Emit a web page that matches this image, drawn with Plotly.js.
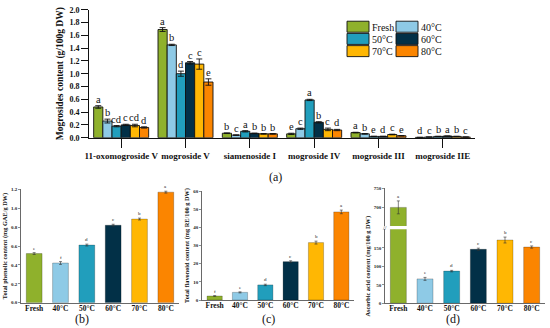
<!DOCTYPE html>
<html><head><meta charset="utf-8">
<script src="https://cdn.plot.ly/plotly-3.0.1.min.js"></script>
<style>html,body{margin:0;padding:0;background:#fff}#chart{width:550px;height:328px}</style>
</head><body><div id="chart"></div>
<script>
// ---------- data ----------
const treatments = ['Fresh', '40°C', '50°C', '60°C', '70°C', '80°C'];
const compounds = ['11-oxomogroside V', 'mogroside V', 'siamenoside I', 'mogroside IV', 'mogroside III', 'mogroside IIE'];

// Mogroside content (g/100g DW), one array per treatment across compounds
const mogFresh = [0.48, 1.69, 0.07, 0.06, 0.08, 0.005];
const mog40 = [0.26, 1.45, 0.04, 0.14, 0.06, 0.010];
const mog50 = [0.18, 1.00, 0.10, 0.59, 0.02, 0.020];
const mog60 = [0.20, 1.17, 0.067, 0.24, 0.02, 0.025];
const mog70 = [0.19, 1.15, 0.06, 0.13, 0.05, 0.020];
const mog80 = [0.16, 0.87, 0.06, 0.12, 0.03, 0.010];
const errFresh = [0.02, 0.03, 0.005, 0.01, 0.005, 0.002];
const err40 = [0.03, 0.01, 0.005, 0.01, 0.005, 0.002];
const err50 = [0.01, 0.04, 0.01, 0.01, 0.003, 0.002];
const err60 = [0.01, 0.02, 0.005, 0.01, 0.003, 0.002];
const err70 = [0.02, 0.08, 0.005, 0.02, 0.005, 0.002];
const err80 = [0.01, 0.05, 0.005, 0.01, 0.003, 0.002];
const letFresh = ['a', 'a', 'b', 'e', 'a', 'd'];
const let40 = ['b', 'b', 'c', 'c', 'b', 'c'];
const let50 = ['cd', 'd', 'a', 'a', 'e', 'b'];
const let60 = ['c', 'c', 'b', 'b', 'd', 'a'];
const let70 = ['cd', 'c', 'b', 'c', 'c', 'b'];
const let80 = ['d', 'e', 'b', 'd', 'e', 'c'];

// Total phenolic content (mg GAE/g DW)
const phenolic = [0.52, 0.42, 0.61, 0.82, 0.885, 1.17];
const phenolicErr = [0.01, 0.015, 0.01, 0.01, 0.01, 0.01];
const phenolicLet = ['e', 'f', 'd', 'c', 'b', 'a'];
// Total flavonoid content (mg RE/100 g DW)
const flavonoid = [2.2, 4.2, 8.3, 21.1, 31.6, 48.5];
const flavonoidErr = [0.2, 0.3, 0.4, 0.5, 0.8, 1.0];
const flavonoidLet = ['f', 'e', 'd', 'c', 'b', 'a'];
// Ascorbic acid content (mg/100 g DW)
const ascorbic = [699, 66, 87, 146, 171, 152];
const ascorbicErr = [17, 4, 2, 3, 8, 3];
const ascorbicLet = ['a', 'e', 'd', 'c', 'b', 'c'];

const colors = ['#8fb12c', '#8ecae6', '#219ebc', '#023047', '#ffb703', '#fb8500'];

// ---------- build ----------
const SERIF = "Liberation Serif, Times New Roman, serif";
const mogVals = [mogFresh, mog40, mog50, mog60, mog70, mog80];
const mogErrs = [errFresh, err40, err50, err60, err70, err80];
const mogLets = [letFresh, let40, let50, let60, let70, let80];
const BARGAP = 0.145;

const traces = [];
const annotations = [];
treatments.forEach((t, ti) => {
  traces.push({
    type: 'bar', name: t, x: compounds, y: mogVals[ti],
    xaxis: 'x', yaxis: 'y',
    marker: {color: colors[ti], line: {color: '#111', width: 0.9}},
    error_y: {type: 'data', array: mogErrs[ti], color: '#111', thickness: 0.9, width: 3},
    legend: (ti % 2 === 0) ? 'legend' : 'legend2',
    hoverinfo: 'none'
  });
  const w = (1 - BARGAP) / treatments.length;
  compounds.forEach((c, ci) => {
    annotations.push({
      xref: 'x', yref: 'y', x: ci + (ti - 2.5) * w, y: mogVals[ti][ci] + mogErrs[ti][ci],
      text: mogLets[ti][ci], showarrow: false, yanchor: 'bottom', yshift: -1,
      font: {family: SERIF, size: 10.5, color: '#111'}
    });
  });
});

function smallPanel(vals, errs, xa, ya) {
  traces.push({
    type: 'bar', x: treatments, y: vals, xaxis: xa, yaxis: ya, width: 0.6,
    showlegend: false, hoverinfo: 'none',
    marker: {color: colors, line: {color: 'rgba(0,0,0,0.45)', width: 0.5}},
    error_y: {type: 'data', array: errs, color: '#333', thickness: 0.6, width: 1.5}
  });
}
function smallLetters(vals, errs, lets, xa, yaFn) {
  treatments.forEach((t, i) => {
    annotations.push({
      xref: xa, yref: yaFn(vals[i]), x: t, y: vals[i] + errs[i], text: lets[i],
      showarrow: false, yanchor: 'bottom', yshift: 0,
      font: {family: SERIF, size: 5, color: '#222'}
    });
  });
}
smallPanel(phenolic, phenolicErr, 'x2', 'y2');
smallLetters(phenolic, phenolicErr, phenolicLet, 'x2', () => 'y2');
smallPanel(flavonoid, flavonoidErr, 'x3', 'y3');
smallLetters(flavonoid, flavonoidErr, flavonoidLet, 'x3', () => 'y3');
smallPanel(ascorbic, ascorbicErr, 'x4', 'y4');
smallPanel(ascorbic, ascorbicErr, 'x4', 'y5');
smallLetters(ascorbic, ascorbicErr, ascorbicLet, 'x4', v => (v > 200 ? 'y5' : 'y4'));

// panel labels
[['(a)', 275, 177], ['(b)', 82, 318.5], ['(c)', 268, 318.5], ['(d)', 453, 318.5]].forEach(p => {
  annotations.push({xref: 'paper', yref: 'paper', x: p[1] / 550, y: 1 - p[2] / 328,
    xanchor: 'center', yanchor: 'middle',
    text: p[0], showarrow: false, font: {family: SERIF, size: 12, color: '#111'}});
});
// axis break mark
annotations.push({xref: 'paper', yref: 'paper', x: 385 / 550, y: 1 - 227.5 / 328,
  xanchor: 'center', yanchor: 'middle',
  text: '//', showarrow: false, font: {family: SERIF, size: 6, color: '#333'}});

const smallTick = {family: SERIF, size: 5, color: '#222', weight: 'bold'};
const smallX = {family: SERIF, size: 7.5, color: '#111', weight: 'bold'};
const smallTitle = {family: SERIF, size: 6.3, color: '#111', weight: 'bold'};
function sx(dom, anchor) {
  return {domain: dom, anchor: anchor, showline: true, linecolor: '#444', linewidth: 0.8,
    ticks: '', tickfont: smallX, ticklabelstandoff: -2, showgrid: false, zeroline: false, fixedrange: true};
}
function sy(dom, anchor, range, extra) {
  return Object.assign({domain: dom, anchor: anchor, range: range, showline: true, linecolor: '#444',
    linewidth: 0.8, ticks: 'outside', ticklen: 2, tickwidth: 0.6, tickcolor: '#444',
    tickfont: smallTick, showgrid: false, zeroline: false, fixedrange: true}, extra);
}

const layout = {
  width: 550, height: 328,
  margin: {l: 0, r: 0, t: 0, b: 0},
  paper_bgcolor: '#fff', plot_bgcolor: 'rgba(0,0,0,0)',
  barmode: 'group', bargap: BARGAP, bargroupgap: 0,
  font: {family: SERIF, color: '#111'},
  xaxis: {domain: [89 / 550, 475 / 550], anchor: 'y', showline: true, linecolor: '#111', linewidth: 1,
    ticks: 'outside', ticklen: 9, tickcolor: '#111', tickwidth: 1,
    tickfont: {family: SERIF, size: 9, color: '#111', weight: 'bold'}, showgrid: false, zeroline: false},
  yaxis: {domain: [1 - 137.7 / 328, 1 - 9.7 / 328], anchor: 'x', range: [0, 2.0], dtick: 0.2, tickformat: '.1f',
    showline: true, linecolor: '#111', linewidth: 1, ticks: 'outside', ticklen: 7, tickcolor: '#111',
    tickfont: {family: SERIF, size: 8, color: '#111', weight: 'bold'}, showgrid: false, zeroline: false,
    title: {text: 'Mogrosides content (g/100g DW)', standoff: 4,
      font: {family: SERIF, size: 9.5, color: '#111', weight: 'bold'}}},
  xaxis2: sx([21 / 550, 179 / 550], 'y2'),
  yaxis2: sy([1 - 302.7 / 328, 1 - 189.3 / 328], 'x2', [0, 1.2], {dtick: 0.2, tickformat: '.1f',
    title: {text: 'Total phenolic content (mg GAE/g DW)', standoff: 2, font: smallTitle}}),
  xaxis3: sx([202 / 550, 354 / 550], 'y3'),
  yaxis3: sy([1 - 300 / 328, 1 - 191 / 328], 'x3', [0, 60], {dtick: 10,
    title: {text: 'Total flavonoid content (mg RE/100 g DW)', standoff: 2, font: smallTitle}}),
  xaxis4: sx([385 / 550, 545 / 550], 'y4'),
  yaxis4: sy([1 - 303.3 / 328, 1 - 229.3 / 328], 'x4', [0, 200], {tickvals: [0, 50, 100, 150],
    title: {text: 'Ascorbic acid content (mg/100 g DW)', standoff: 2, font: smallTitle}}),
  yaxis5: sy([1 - 226 / 328, 1 - 188 / 328], 'x4', [650, 750], {tickvals: [700, 750]}),
  legend: {x: 332 / 550, y: 1 - 14 / 328, xanchor: 'left', yanchor: 'top', bgcolor: 'rgba(0,0,0,0)',
    font: {family: SERIF, size: 10, color: '#111'}, itemwidth: 30, tracegroupgap: 0},
  legend2: {x: 381 / 550, y: 1 - 14 / 328, xanchor: 'left', yanchor: 'top', bgcolor: 'rgba(0,0,0,0)',
    font: {family: SERIF, size: 10, color: '#111'}, itemwidth: 30, tracegroupgap: 0},
  annotations: annotations,
  showlegend: true
};

Plotly.newPlot('chart', traces, layout, {displayModeBar: false, staticPlot: true}).then(gd => {
  // tighten legend rows and use wide swatches like the reference
  try {
    gd.querySelectorAll('.infolayer g.traces').forEach(g => {
      const tr = g.getAttribute('transform') || '';
      const m = tr.match(/translate\(\s*([-\d.]+)[ ,]+([-\d.]+)\s*\)/);
      if (m) {
        const x = parseFloat(m[1]), y = parseFloat(m[2]);
        g.setAttribute('transform', 'translate(' + x + ',' + (9.5 + (y - 9.5) * 12.2 / 19) + ')');
      }
      g.querySelectorAll('.legendpoints path').forEach(p => {
        p.setAttribute('transform', 'translate(26,0)');
        p.setAttribute('d', 'M11,5.5H-11V-5.5H11Z');
      });
    });
  } catch (e) {}
});
</script>
</body></html>
